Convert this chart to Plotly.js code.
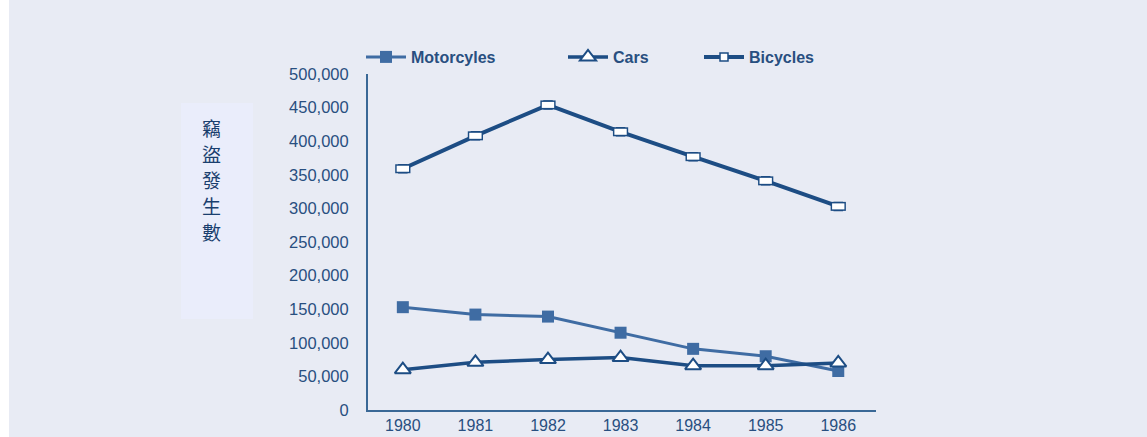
<!DOCTYPE html>
<html>
<head>
<meta charset="utf-8">
<script src="https://cdn.plot.ly/plotly-3.0.1.min.js"></script>
<style>
html,body{margin:0;padding:0;background:#ffffff;}
#chart{position:absolute;left:9px;top:0;width:1138px;height:437px;}
</style>
</head>
<body>
<div id="chart"></div>
<script>
// ---- data ----
var years = [1980, 1981, 1982, 1983, 1984, 1985, 1986];
var motorcycles = [153000, 142000, 139000, 115000, 91000, 80000, 58000];
var cars = [60000, 71000, 75000, 78000, 66000, 66000, 70000];
var bicycles = [359000, 408000, 454000, 414000, 377000, 341000, 303000];
var seriesNames = ["Motorcyles", "Cars", "Bicycles"];
var yTitleChars = ["竊", "盜", "發", "生", "數"];
var yTicks = [0, 50000, 100000, 150000, 200000, 250000, 300000, 350000, 400000, 450000, 500000];

var navy = "#1d4d84";
var steel = "#3f6ca3";
var bg = "#e8ebf4";
var textCol = "#284f80";

var traces = [
  {x: years, y: motorcycles, name: seriesNames[0], mode: "lines+markers", legend: "legend",
   line: {color: steel, width: 3}, marker: {symbol: "square", size: 12, color: steel}},
  {x: years, y: cars, name: seriesNames[1], mode: "lines+markers", legend: "legend2",
   line: {color: navy, width: 3.5},
   marker: {symbol: "triangle-up", size: 14, color: "#ffffff", line: {color: navy, width: 2}}},
  {x: years, y: bicycles, name: seriesNames[2], mode: "lines+markers", legend: "legend3",
   line: {color: navy, width: 4},
   marker: {symbol: "square", size: 8, color: "#ffffff", line: {color: navy, width: 1.5}}},
  // rectangular markers for bicycles (outer + inner) via horizontal error bars
  {x: years, y: bicycles, mode: "markers", showlegend: false, hoverinfo: "skip",
   marker: {size: 1, opacity: 0},
   error_x: {type: "constant", value: 0.105, thickness: 9, width: 0, color: navy}},
  {x: years, y: bicycles, mode: "markers", showlegend: false, hoverinfo: "skip",
   marker: {size: 1, opacity: 0},
   error_x: {type: "constant", value: 0.085, thickness: 6, width: 0, color: "#ffffff"}}
];

var legendFont = {family: "Liberation Sans, Arial, sans-serif", size: 16, color: textCol, weight: "bold"};
function mkLegend(xpx) {
  return {orientation: "h", xref: "container", yref: "container",
    x: xpx / 1138, y: 1 - 57 / 437, xanchor: "left", yanchor: "middle",
    bgcolor: "rgba(0,0,0,0)", borderwidth: 0, font: legendFont, itemwidth: 40};
}

var annotations = yTitleChars.map(function (ch, i) {
  return {
    text: ch, xref: "paper", yref: "paper", x: 0, y: 1,
    xanchor: "center", yanchor: "middle", xshift: -157, yshift: -(53 + 26 * i),
    showarrow: false,
    font: {family: "Noto Sans CJK TC, Noto Sans CJK SC, sans-serif", size: 19, color: "#1a3f6e"}
  };
});

var layout = {
  width: 1138, height: 437,
  paper_bgcolor: bg, plot_bgcolor: bg,
  margin: {l: 359, r: 271, t: 72, b: 27, pad: 0},
  showlegend: true,
  legend: mkLegend(352),
  legend2: mkLegend(554),
  legend3: mkLegend(690),
  xaxis: {
    type: "linear", range: [1979.52, 1986.52],
    tickvals: years, ticktext: years.map(String),
    showgrid: false, zeroline: false, showline: true,
    linecolor: "#3a6896", linewidth: 2, ticks: "", ticklabelstandoff: 0,
    tickfont: {family: "Liberation Sans, Arial, sans-serif", size: 16, color: textCol}
  },
  yaxis: {
    range: [0, 500000], tickvals: yTicks, tickformat: ",",
    showgrid: false, zeroline: false, showline: true,
    linecolor: "#3a6896", linewidth: 2, ticks: "", ticklabelstandoff: 14,
    tickfont: {family: "Liberation Sans, Arial, sans-serif", size: 16.5, color: textCol}
  },
  shapes: [{
    type: "rect", xref: "paper", yref: "paper",
    xsizemode: "pixel", ysizemode: "pixel", xanchor: 0, yanchor: 1,
    x0: -187, x1: -115, y0: -29, y1: -245,
    fillcolor: "#eaedfb", line: {width: 0}, layer: "below"
  }],
  annotations: annotations
};

Plotly.newPlot("chart", traces, layout, {displayModeBar: false, staticPlot: true});
</script>
</body>
</html>
